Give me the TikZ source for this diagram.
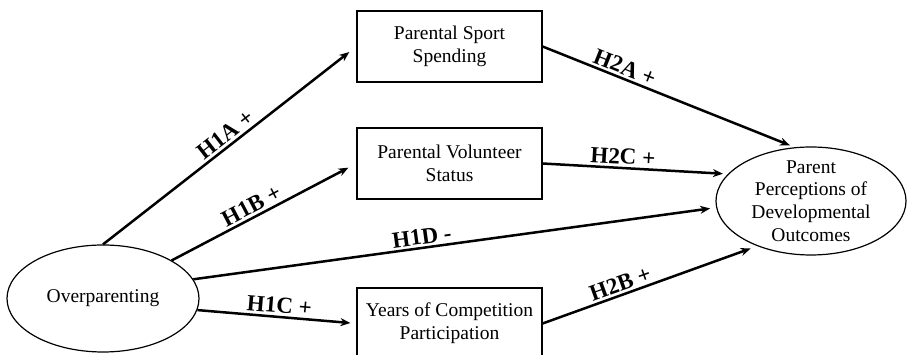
\documentclass[tikz,border=0pt]{standalone}
\usepackage{fontspec}
\setmainfont{Liberation Serif}
\usetikzlibrary{shapes.geometric,arrows.meta}

\begin{document}
\begin{tikzpicture}
	[x=1pt,y=1pt,
	mybox/.style = {shape=rectangle, draw, line width=1.2pt, align=center, minimum width=185pt, minimum height=71pt, inner sep=0pt, font=\fontsize{19.5}{22.7}\selectfont},
	myellipse/.style = {shape=ellipse, draw, line width=1.2pt, align=center, inner sep=0pt, font=\fontsize{19.5}{22.7}\selectfont},
	myarrow/.style = {-{Stealth[length=10pt,width=8pt]}, line width=2.5pt},
	mylabel/.style = {sloped, above, inner sep=2.5pt, font=\fontsize{23}{25}\selectfont\bfseries}]
	\useasboundingbox (0,0) rectangle (907,355);
	% latent variables
	\node[myellipse, minimum width=192pt, minimum height=107pt] (over) at (103,56.5) {Overparenting};
	\node[myellipse, minimum width=190pt, minimum height=108pt, inner ysep=-4pt] (outcome) at (811,154) {Parent\\Perceptions of\\Developmental\\Outcomes};
	% mediators
	\node[mybox] (spend) at (449.5,308.5) {Parental Sport\\Spending};
	\node[mybox] (volunteer) at (449.5,191.5) {Parental Volunteer\\Status};
	\node[mybox] (years) at (449.5,31.5) {Years of Competition\\Participation};
	% paths
	\draw[myarrow, shorten >=9pt] (over.north) -- node[mylabel, pos=0.51]{H1A +} (spend.west);
	\draw[myarrow, shorten >=9pt] (over.29) -- node[mylabel, pos=0.46]{H1B +} (volunteer.west);
	\draw[myarrow, shorten >=6pt] (over.12) -- node[mylabel, pos=0.44]{H1D -} (outcome.184);
	\draw[myarrow, shorten >=6pt] (over.-7) -- node[mylabel, pos=0.51]{H1C +} (years.west);
	\draw[myarrow, shorten >=5pt] (spend.east) -- node[mylabel, pos=0.31]{H2A +} (outcome.107);
	\draw[myarrow, shorten >=5pt] (volunteer.east) -- node[mylabel, pos=0.43]{H2C +} (outcome.162);
	\draw[myarrow, shorten >=7pt] (years.east) -- node[mylabel, pos=0.38]{H2B +} (outcome.220);
\end{tikzpicture}
\end{document}
